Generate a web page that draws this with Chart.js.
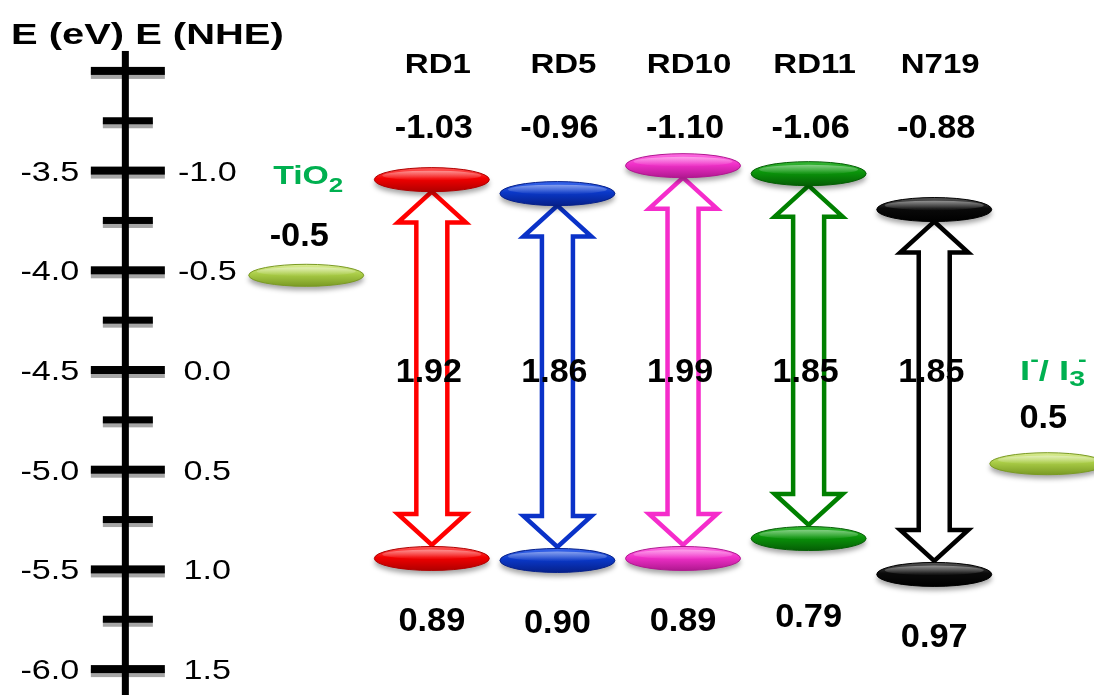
<!DOCTYPE html>
<html><head><meta charset="utf-8">
<script src="https://cdn.jsdelivr.net/npm/chart.js@4.4.0/dist/chart.umd.min.js"></script>
<style>html,body{margin:0;padding:0;background:#fff;overflow:hidden}canvas{display:block}</style>
</head><body>
<canvas id="c" width="1094" height="695"></canvas>
<script>
// ---- data (energies vs NHE, V) ----
const dyes = ['RD1', 'RD5', 'RD10', 'RD11', 'N719'];
const lumo = [-1.03, -0.96, -1.10, -1.06, -0.88];
const homo = [0.89, 0.90, 0.89, 0.79, 0.97];
const gaps = [1.92, 1.86, 1.99, 1.85, 1.85];
const tio2CB = -0.5;
const redox = 0.5;
const nheTicks = [-1.5, -1.0, -0.5, 0.0, 0.5, 1.0, 1.5];
const nheLabels = ['', '-1.0', '-0.5', '0.0', '0.5', '1.0', '1.5'];
const evLabels = ['', '-3.5', '-4.0', '-4.5', '-5.0', '-5.5', '-6.0'];
const minorTicks = [-1.25, -0.75, -0.25, 0.25, 0.75, 1.25];
const dyeX = [1, 2, 3, 4, 5];
const tio2X = 0;
const redoxX = 5.9;
const axisX = -1.44;

// ---- styles ----
const arrowColors = ['#ff0000', '#0a32c8', '#f52ccb', '#008000', '#000000'];
const gelColors = [
  {light:'#ff5a5a', base:'#f20000', dark:'#b00000'},
  {light:'#3a68ee', base:'#0a38c8', dark:'#06208a'},
  {light:'#ff70e4', base:'#f030c8', dark:'#b01890'},
  {light:'#38b838', base:'#0a940a', dark:'#055e05'},
  {light:'#585858', base:'#0a0a0a', dark:'#000000'}
];
const limeGel = {light:'#dcee96', base:'#a9cc46', dark:'#7a9a24'};
const FONT = '"Liberation Sans", Arial, sans-serif';
const GREEN = '#00b050';

function drawText(ctx, s, x, midY, size, bold, color, align, sx) {
  ctx.save();
  ctx.font = (bold ? 'bold ' : '') + size + 'px ' + FONT;
  ctx.fillStyle = color; ctx.textAlign = 'left'; ctx.textBaseline = 'alphabetic';
  const w = ctx.measureText(s).width * sx;
  const left = align === 'center' ? x - w / 2 : align === 'right' ? x - w : x;
  ctx.translate(left, midY + 0.358 * size);
  ctx.scale(sx, 1);
  ctx.fillText(s, 0, 0);
  ctx.restore();
}
function drawRich(ctx, pieces, x, midY, size, color, sx) {
  ctx.save();
  ctx.fillStyle = color; ctx.textAlign = 'left'; ctx.textBaseline = 'alphabetic';
  let cur = 0, prevStart = 0, prevW = 0;
  pieces.forEach(p => {
    ctx.font = 'bold ' + p.s + 'px ' + FONT;
    p.w = ctx.measureText(p.t).width;
    p.x = p.back ? prevStart + prevW * 0.55 : cur;
    prevStart = p.x; prevW = p.w;
    cur = Math.max(cur, p.x + p.w);
  });
  ctx.translate(x - cur * sx / 2, midY + 0.358 * size);
  ctx.scale(sx, 1);
  pieces.forEach(p => {
    ctx.font = 'bold ' + p.s + 'px ' + FONT;
    ctx.fillText(p.t, p.x, p.dy);
  });
  ctx.restore();
}
function gel(ctx, cx, cy, w, h, c) {
  ctx.save();
  ctx.shadowColor = 'rgba(0,0,0,0.35)'; ctx.shadowBlur = 5; ctx.shadowOffsetY = 4;
  ctx.beginPath(); ctx.ellipse(cx, cy, w / 2, h / 2, 0, 0, 2 * Math.PI);
  const g = ctx.createLinearGradient(0, cy - h / 2, 0, cy + h / 2);
  g.addColorStop(0, c.light); g.addColorStop(0.45, c.base); g.addColorStop(1, c.dark);
  ctx.fillStyle = g; ctx.fill();
  ctx.shadowColor = 'transparent';
  ctx.lineWidth = 1; ctx.strokeStyle = c.dark; ctx.stroke();
  ctx.beginPath(); ctx.ellipse(cx, cy - h * 0.17, w * 0.43, h * 0.2, 0, 0, 2 * Math.PI);
  const g2 = ctx.createLinearGradient(0, cy - h * 0.4, 0, cy + h * 0.05);
  g2.addColorStop(0, 'rgba(255,255,255,0.45)'); g2.addColorStop(1, 'rgba(255,255,255,0)');
  ctx.fillStyle = g2; ctx.fill();
  ctx.restore();
}
function dblArrow(ctx, cx, ty, by, color) {
  const H = 34, S = 15.5, L = 31;
  ctx.save(); ctx.beginPath();
  ctx.moveTo(cx, ty); ctx.lineTo(cx + H, ty + L); ctx.lineTo(cx + S, ty + L);
  ctx.lineTo(cx + S, by - L); ctx.lineTo(cx + H, by - L); ctx.lineTo(cx, by);
  ctx.lineTo(cx - H, by - L); ctx.lineTo(cx - S, by - L); ctx.lineTo(cx - S, ty + L);
  ctx.lineTo(cx - H, ty + L); ctx.closePath();
  ctx.fillStyle = '#fff'; ctx.fill();
  ctx.lineWidth = 4.5; ctx.strokeStyle = color; ctx.lineJoin = 'miter'; ctx.miterLimit = 10;
  ctx.stroke(); ctx.restore();
}

const diagram = {
  id: 'diagram',
  afterDatasetsDraw(chart) {
    const ctx = chart.ctx, xs = chart.scales.x, ys = chart.scales.y;
    const ax = xs.getPixelForValue(axisX);
    ctx.save();
    const axTop = ys.getPixelForValue(-1.6);
    const tick = (v, half, th) => {
      const y = ys.getPixelForValue(v);
      ctx.fillStyle = '#a6a6a6';
      ctx.fillRect(ax + 2.5 - half, y - th / 2 + 4, half * 2, th);
      ctx.fillStyle = '#000';
      ctx.fillRect(ax + 2.5 - half, y - th / 2, half * 2, th);
    };
    minorTicks.forEach(v => tick(v, 25, 7));
    nheTicks.forEach(v => tick(v, 37, 8));
    ctx.fillStyle = '#000';
    ctx.fillRect(ax - 3.5, axTop, 7, chart.height - axTop);
    ctx.restore();
    nheTicks.forEach((v, i) => {
      const y = ys.getPixelForValue(v);
      if (evLabels[i]) drawText(ctx, evLabels[i], ax - 46, y, 28, false, '#000', 'right', 1.22);
      if (nheLabels[i]) drawText(ctx, nheLabels[i], ax + 82, y, 28, false, '#000', 'center', 1.22);
    });
    drawText(ctx, 'E (eV) E (NHE)', 11, 33.3, 30, true, '#000', 'left', 1.33);

    const mL = chart.getDatasetMeta(0).data;
    const mH = chart.getDatasetMeta(1).data;
    const mT = chart.getDatasetMeta(2).data[0];
    const mR = chart.getDatasetMeta(3).data[0];
    dyes.forEach((d, i) => {
      dblArrow(ctx, mL[i].x, mL[i].y + 27, mH[i].y - 2.5, arrowColors[i]);
    });
    dyes.forEach((d, i) => {
      gel(ctx, mL[i].x, mL[i].y + 15, 115, 24, gelColors[i]);
      gel(ctx, mH[i].x, mH[i].y + 11, 115, 24, gelColors[i]);
    });
    gel(ctx, mT.x, mT.y + 5, 115, 22, limeGel);
    gel(ctx, mR.x, mR.y - 6, 115, 22, limeGel);
    dyes.forEach((d, i) => {
      const x = mL[i].x;
      drawText(ctx, d, x + 6, ys.getPixelForValue(-1.54), 28, true, '#000', 'center', 1.18);
      drawText(ctx, lumo[i].toFixed(2), x + 2, ys.getPixelForValue(-1.221), 33, true, '#000', 'center', 1.04);
      drawText(ctx, homo[i].toFixed(2), x, ys.getPixelForValue(Math.max(1.23, homo[i] + 0.36)), 33, true, '#000', 'center', 1.04);
      drawText(ctx, gaps[i].toFixed(2), x - 3, ys.getPixelForValue(0), 34, true, '#000', 'center', 1.0);
    });
    drawRich(ctx, [{t:'TiO', s:26, dy:0}, {t:'2', s:20, dy:8}], mT.x + 2, ys.getPixelForValue(tio2CB - 0.48), 26, GREEN, 1.3);
    drawText(ctx, tio2CB.toFixed(1), mT.x - 7, ys.getPixelForValue(tio2CB - 0.18), 33, true, '#000', 'center', 1.04);
    drawRich(ctx, [{t:'I', s:28, dy:0}, {t:'-', s:20, dy:-14}, {t:'/ I', s:28, dy:0}, {t:'3', s:22, dy:6}, {t:'-', s:20, dy:-14, back:true}],
      mR.x + 6, ys.getPixelForValue(redox - 0.5), 28, GREEN, 1.3);
    drawText(ctx, redox.toFixed(1), mR.x - 4, ys.getPixelForValue(redox - 0.27), 33, true, '#000', 'center', 1.04);
  }
};

new Chart(document.getElementById('c'), {
  type: 'scatter',
  data: {
    datasets: [
      {label: 'LUMO', data: dyeX.map((x, i) => ({x, y: lumo[i]})), pointRadius: 0},
      {label: 'HOMO', data: dyeX.map((x, i) => ({x, y: homo[i]})), pointRadius: 0},
      {label: 'TiO2 CB', data: [{x: tio2X, y: tio2CB}], pointRadius: 0},
      {label: 'I-/I3-', data: [{x: redoxX, y: redox}], pointRadius: 0}
    ]
  },
  options: {
    responsive: false, animation: false, events: [],
    layout: {padding: 0},
    plugins: {legend: {display: false}, tooltip: {enabled: false}},
    scales: {
      x: {type: 'linear', min: -2.438, max: 6.272, display: false},
      y: {type: 'linear', min: -1.8556, max: 1.6299, reverse: true, display: false}
    }
  },
  plugins: [diagram]
});
</script>
</body></html>
